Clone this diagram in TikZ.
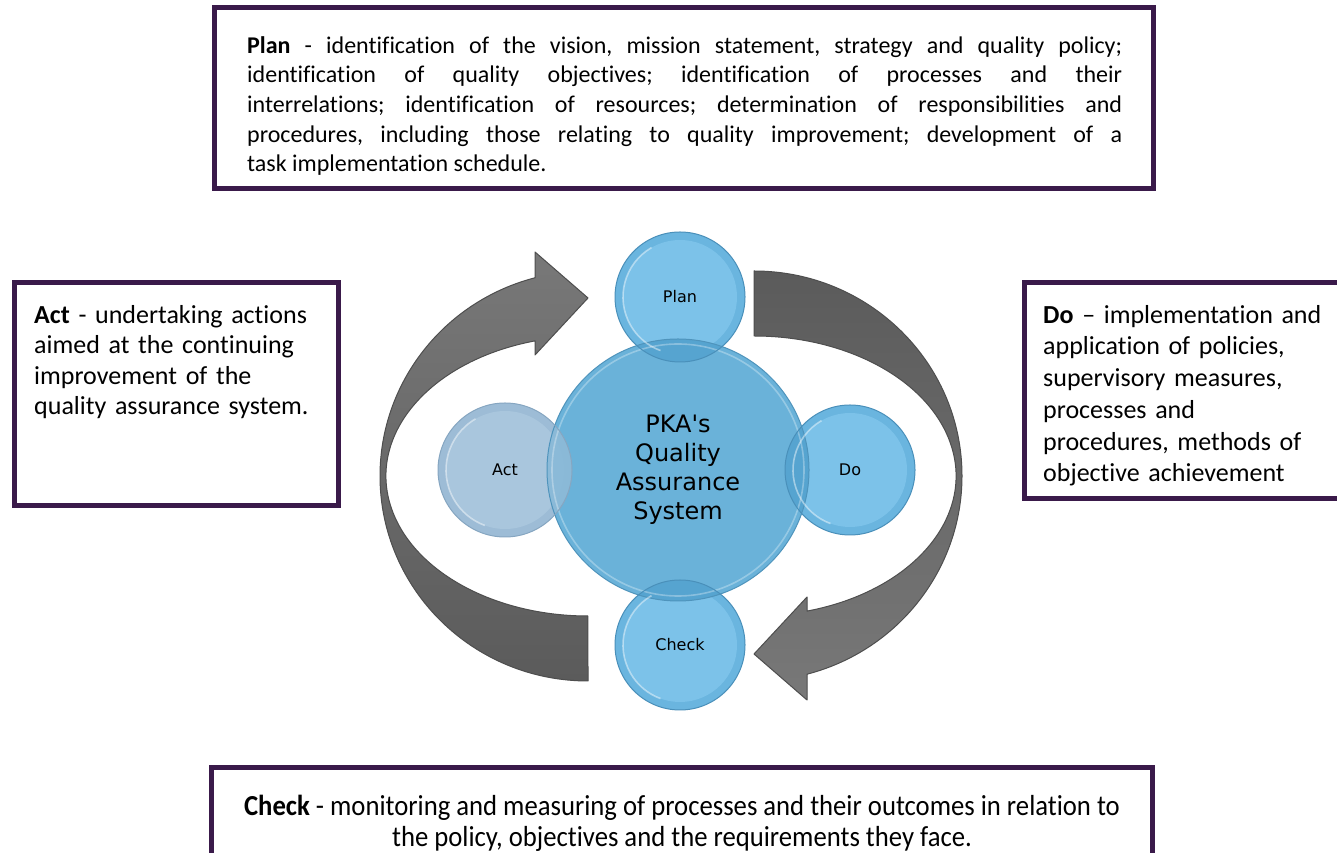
\documentclass[tikz,border=0pt]{standalone}
\usepackage{fontspec}
\setmainfont{Carlito}[Ligatures=NoCommon]
\newfontfamily\circlefont{DejaVu Sans}
\newfontfamily\narrowfont{Carlito}[Ligatures=NoCommon, FakeStretch=0.92]
\definecolor{boxpurple}{HTML}{3A1A4A}
\definecolor{arrowlight}{HTML}{787878}
\definecolor{arrowdark}{HTML}{5B5B5B}
\definecolor{arrowedge}{HTML}{4E4E4E}
\definecolor{hubblue}{HTML}{6AB2D9}
\definecolor{hubedge}{HTML}{4F94BC}
\definecolor{satblue}{HTML}{7CC2E9}
\definecolor{satrim}{HTML}{6AB5DF}
\definecolor{satedge}{HTML}{4A90BA}
\definecolor{overlapblue}{HTML}{56A4D0}
\definecolor{actblue}{HTML}{A9C6DD}
\definecolor{actrim}{HTML}{9DBCD6}
\definecolor{actedge}{HTML}{86A6C1}
\definecolor{actoverlap}{HTML}{88B9D8}
\frenchspacing
\begin{document}
\begin{tikzpicture}[x=1pt,y=1pt,
  textbox/.style={draw=boxpurple, line width=5pt, fill=white, rectangle, inner sep=0pt},
  boxtext/.style={inner sep=0pt, anchor=north west, font=\fontsize{24}{29.7}\selectfont},
  arrowbody/.style={draw=arrowedge, line width=1pt, line join=round},
  satellite/.style={circle, inner sep=0pt, minimum size=130pt, fill=satrim},
  actcircle/.style={circle, inner sep=0pt, minimum size=134pt, fill=actrim},
  hubcircle/.style={circle, inner sep=0pt, minimum size=262pt, fill=hubblue},
  circlelabel/.style={font=\circlefont\fontsize{16}{19}\selectfont},
  rimline/.style={white, opacity=0.45, line width=1.6pt}
]
\useasboundingbox (0,0) rectangle (1337,853);
\clip (0,0) rectangle (1337,853);
\fill[white] (0,0) rectangle (1337,853);

% ---- text boxes ----
\node[textbox, minimum width=939pt, minimum height=181pt, anchor=south west] (planbox) at (212,662) {};
\node[textbox, minimum width=324pt, minimum height=223pt, anchor=south west] (actbox) at (12,345) {};
\node[textbox, minimum width=340pt, minimum height=216pt, anchor=south west] (dobox) at (1022,352) {};
\node[textbox, minimum width=941pt, minimum height=110pt, anchor=south west] (checkbox) at (209,-27) {};

\node[boxtext, text width=875pt, align=justify] (plantext) at (247,817)
  {\textbf{Plan} - identification of the vision, mission statement, strategy and quality policy;\linebreak
   identification of quality objectives; identification of processes and their\linebreak
   interrelations; identification of resources; determination of responsibilities and\linebreak
   procedures, including those relating to quality improvement; development of a\linebreak
   task implementation schedule.};

\node[boxtext, text width=300pt, align=left, font=\fontsize{26}{30.5}\selectfont] (acttext) at (34,548)
  {\textbf{Act} - undertaking actions\\ aimed at the continuing\\ improvement of the\\ quality assurance system.};

\node[boxtext, text width=300pt, align=left, font=\fontsize{26}{31.7}\selectfont] (dotext) at (1043,548)
  {\textbf{Do} -- implementation and\\ application of policies,\\ supervisory measures,\\ processes and\\ procedures, methods of\\ objective achievement};

\node[inner sep=0pt, anchor=north, align=center, font=\narrowfont\fontsize{29}{31}\selectfont] (checktext) at (682,58)
  {\textbf{Check} - monitoring and measuring of processes and their outcomes in relation to\\
   the policy, objectives and the requirements they face.};

% ---- curved arrows ----
\path[arrowbody, top color=arrowlight, bottom color=arrowdark]
  (588,172) arc[start angle=270, end angle=104.76, x radius=208pt, y radius=205pt]
  -- (535,601) -- (588,555) -- (535,498) -- (535,512.1)
  arc[start angle=105.2, end angle=270, x radius=202pt, y radius=140pt] -- cycle;
\path[arrowbody, top color=arrowdark, bottom color=arrowlight]
  (754,582) arc[start angle=90, end angle=-75.24, x radius=208pt, y radius=205pt]
  -- (807,153) -- (754,199) -- (807,256) -- (807,241.9)
  arc[start angle=-74.8, end angle=90, x radius=202pt, y radius=140pt] -- cycle;

% ---- circles ----
\node[hubcircle] (hub) at (678,383) {};
\node[satellite] (plan) at (680,556) {};
\node[satellite] (check) at (680,208) {};
\node[satellite] (do) at (850,383) {};
\node[actcircle] (act) at (505,383) {};

% inner discs of the satellites
\foreach \c in {plan,check,do} \fill[satblue] (\c.center) circle[radius=57pt];
\fill[actblue] (act.center) circle[radius=59pt];

% overlaps with the hub
\begin{scope}
  \clip (hub.center) circle[radius=131pt];
  \foreach \c in {plan,check,do} \fill[overlapblue] (\c.center) circle[radius=65pt];
  \fill[actoverlap, opacity=0.9] (act.center) circle[radius=67pt];
\end{scope}

% outlines and glossy rims
\draw[hubedge, line width=1pt] (hub.center) circle[radius=131pt];
\draw[rimline, opacity=0.3] (hub.center) circle[radius=126pt];
\foreach \c in {plan,check,do} {
  \draw[satedge, line width=1pt] (\c.center) circle[radius=65pt];
  \draw[rimline] (\c.center) ++(120:57pt) arc[start angle=120, end angle=250, radius=57pt];
}
\draw[actedge, line width=1pt] (act.center) circle[radius=67pt];
\draw[rimline] (act.center) ++(120:59pt) arc[start angle=120, end angle=250, radius=59pt];

% circle labels
\node[circlelabel] (plantag) at (plan.center) {Plan};
\node[circlelabel] (checktag) at (check.center) {Check};
\node[circlelabel] (dotag) at (do.center) {Do};
\node[circlelabel] (acttag) at (act.center) {Act};
\node[align=center, font=\circlefont\fontsize{24}{29}\selectfont] (hubtag) at (hub.center) {PKA's\\Quality\\Assurance\\System};
\end{tikzpicture}
\end{document}
